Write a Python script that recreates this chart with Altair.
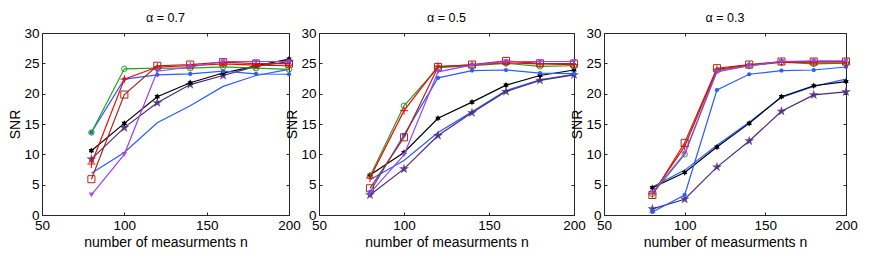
import altair as alt
import pandas as pd

n_values = [80, 100, 120, 140, 160, 180, 200]
panel_titles = ["α = 0.7", "α = 0.5", "α = 0.3"]
x_ticks = [50, 100, 150, 200]
y_ticks = [0, 5, 10, 15, 20, 25, 30]

# alpha = 0.7
blue_low_07 = [6.9, 10.3, 15.2, 18.0, 21.2, 23.0, 24.0]
purple_07 = [9.2, 14.4, 18.5, 21.5, 23.0, 24.5, 25.3]
black_07 = [10.6, 15.1, 19.5, 21.8, 23.4, 24.6, 25.7]
blue_dot_07 = [13.6, 22.4, 23.1, 23.25, 23.7, 23.25, 23.2]
green_07 = [13.6, 24.1, 24.2, 24.2, 24.4, 24.2, 24.0]
red_07 = [8.4, 22.4, 24.4, 24.6, 24.9, 24.7, 24.6]
brown_07 = [5.9, 19.85, 24.6, 24.8, 25.2, 24.95, 24.95]
violet_07 = [3.3, 10.0, 23.7, 24.4, 25.3, 25.3, 25.3]

# alpha = 0.5
blue_low_05 = [5.8, 9.0, 13.6, 17.0, 20.5, 22.3, 23.2]
purple_05 = [3.3, 7.6, 13.1, 16.85, 20.35, 22.2, 23.1]
black_05 = [6.6, 10.3, 15.95, 18.6, 21.4, 23.0, 23.9]
blue_dot_05 = [3.8, 13.2, 22.6, 23.8, 23.9, 23.4, 23.3]
green_05 = [6.4, 18.0, 24.3, 24.6, 25.0, 24.5, 24.6]
red_05 = [6.1, 17.2, 24.5, 24.7, 25.1, 24.9, 24.8]
brown_05 = [4.4, 12.8, 24.4, 24.8, 25.4, 25.0, 24.95]
violet_05 = [3.6, 9.9, 23.6, 24.7, 25.3, 25.3, 25.3]

# alpha = 0.3
blue_low_03 = [4.6, 7.4, 11.5, 15.3, 19.4, 21.2, 22.4]
purple_03 = [1.0, 2.6, 7.9, 12.2, 17.1, 19.8, 20.3]
black_03 = [4.5, 7.0, 11.2, 15.1, 19.5, 21.3, 22.0]
blue_dot_03 = [0.5, 3.3, 20.6, 23.2, 23.8, 23.9, 24.4]
green_03 = [3.5, 10.0, 23.8, 24.6, 25.2, 24.9, 25.05]
red_03 = [3.5, 11.3, 24.0, 24.7, 25.2, 25.1, 25.1]
brown_03 = [3.3, 11.9, 24.2, 24.8, 25.3, 25.3, 25.3]
violet_03 = [3.7, 10.1, 23.6, 24.6, 25.3, 25.4, 25.4]

panel_series = [
    [blue_low_07, purple_07, black_07, blue_dot_07, green_07, red_07, brown_07, violet_07],
    [blue_low_05, purple_05, black_05, blue_dot_05, green_05, red_05, brown_05, violet_05],
    [blue_low_03, purple_03, black_03, blue_dot_03, green_03, red_03, brown_03, violet_03],
]
series_names = ["blue_low", "purple", "black", "blue_dot", "green", "red", "brown", "violet"]

PLUS = "M-1,0L1,0M0,-1L0,1"
PENTAGRAM = ("M0,-1L0.225,-0.309L0.951,-0.309L0.363,0.118L0.588,0.809L0,0.382"
             "L-0.588,0.809L-0.363,0.118L-0.951,-0.309L-0.225,-0.309Z")
HEXAGRAM = ("M0,-1L0.289,-0.5L0.866,-0.5L0.577,0L0.866,0.5L0.289,0.5L0,1"
            "L-0.289,0.5L-0.866,0.5L-0.577,0L-0.866,-0.5L-0.289,-0.5Z")
styles = {
    "blue_low": dict(color="#2a5cff", shape=None),
    "purple": dict(color="#4a2a78", shape=PENTAGRAM, filled=True, size=110, opacity=0.85),
    "black": dict(color="#000000", shape=HEXAGRAM, filled=True, size=40, opacity=1),
    "blue_dot": dict(color="#2a5cff", shape="circle", filled=True, size=18, opacity=1),
    "green": dict(color="#22a022", shape="circle", filled=False, size=30, opacity=1),
    "red": dict(color="#ff0000", shape=PLUS, filled=False, size=64, opacity=1),
    "brown": dict(color="#a8281c", shape="square", filled=False, size=50, opacity=1),
    "violet": dict(color="#a040f0", shape="triangle-down", filled=True, size=30, opacity=0.9),
}

panel_widths = [247, 255, 242]
PLOT_H = 182
FONT = "Liberation Sans"
AX = "#262626"

def make_panel(idx):
    rows = []
    for name, vals in zip(series_names, panel_series[idx]):
        for n, v in zip(n_values, vals):
            rows.append({"n": n, "snr": v, "series": name})
    df = pd.DataFrame(rows)
    base = alt.Chart(df)
    xs = alt.Scale(domain=[50, 200], nice=False, zero=False)
    ys = alt.Scale(domain=[0, 30], nice=False)
    x_main = alt.X("n:Q", scale=xs, axis=alt.Axis(
        values=x_ticks, orient="bottom", offset=-3, tickSize=3, tickColor=AX, domain=False,
        grid=False, labelFontSize=13.5, labelPadding=3.5, labelColor="#000", labelFont=FONT,
        labelFlush=False, labelOverlap=False, title="number of measurments n",
        titleFontSize=14, titleFontWeight="normal", titleFont=FONT, titleColor="#000",
        titlePadding=3))
    y_main = alt.Y("snr:Q", scale=ys, axis=alt.Axis(
        values=y_ticks, orient="left", offset=-3, tickSize=3, tickColor=AX, domain=False,
        grid=False, labelFontSize=13.5, labelPadding=3, labelColor="#000", labelFont=FONT,
        labelFlush=False, labelOverlap=False, title="SNR",
        titleFontSize=14, titleFontWeight="normal", titleFont=FONT, titleColor="#000",
        titlePadding=1))
    x_none = alt.X("n:Q", scale=xs, axis=None)
    y_none = alt.Y("snr:Q", scale=ys, axis=None)
    layers = []
    first = True
    for name in series_names:
        st = styles[name]
        sub = base.transform_filter(alt.datum.series == name)
        xe, ye = (x_main, y_main) if first else (x_none, y_none)
        first = False
        layers.append(sub.mark_line(color=st["color"], strokeWidth=1.2).encode(x=xe, y=ye))
        if st["shape"] is not None:
            layers.append(sub.mark_point(shape=st["shape"], filled=st["filled"], size=st["size"],
                                         color=st["color"], strokeWidth=1,
                                         opacity=st["opacity"]).encode(x=x_none, y=y_none))
    frame = base.mark_point(opacity=0).encode(
        x=alt.X("n:Q", scale=xs, axis=alt.Axis(values=x_ticks, orient="top", offset=-3, tickSize=3,
                                               tickColor=AX, domain=False, grid=False, labels=False,
                                               title=None)),
        y=alt.Y("snr:Q", scale=ys, axis=alt.Axis(values=y_ticks, orient="right", offset=-3, tickSize=3,
                                                 tickColor=AX, domain=False, grid=False, labels=False,
                                                 title=None)),
    )
    layers.append(frame)
    return alt.layer(*layers).resolve_axis(x="independent", y="independent").properties(
        width=panel_widths[idx], height=PLOT_H,
        title=alt.TitleParams(panel_titles[idx], fontSize=12.5, fontWeight="normal", font=FONT,
                              color="#000", offset=2, anchor="middle"))

chart = alt.hconcat(make_panel(0), make_panel(1), make_panel(2), spacing=30, bounds="flush").properties(
    padding={"left": 0, "top": 3, "right": 5, "bottom": 5}
).configure_view(stroke=AX, strokeWidth=1)

chart.save("out.html", embed_options={"renderer": "svg", "actions": False})
